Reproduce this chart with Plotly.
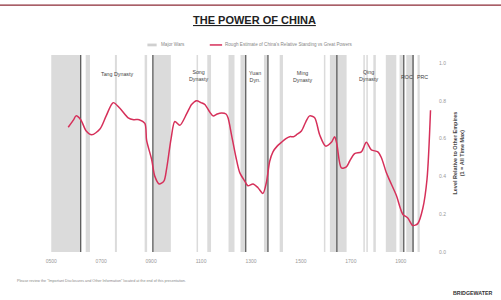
import plotly.graph_objects as go

# --- data ---
years = [568, 590, 599, 618, 640, 662, 695, 720, 748, 775, 808, 830, 852, 875, 882, 902, 915,
         932, 951, 962, 980, 995, 1015, 1042, 1062, 1082, 1100, 1115, 1135, 1148, 1165, 1182, 1200,
         1208, 1222, 1240, 1255, 1275, 1288, 1308, 1328, 1348, 1362, 1375, 1388, 1405, 1422, 1440,
         1455, 1470, 1482, 1502, 1520, 1535, 1555, 1575, 1599, 1622, 1635, 1644, 1662, 1682, 1695,
         1715, 1742, 1762, 1782, 1808, 1822, 1842, 1855, 1882, 1908, 1928, 1948, 1968, 1988, 2005, 2019]
power = [0.66, 0.70, 0.72, 0.70, 0.64, 0.62, 0.65, 0.72, 0.79, 0.76, 0.71, 0.70, 0.70, 0.68, 0.59,
         0.49, 0.40, 0.36, 0.375, 0.44, 0.60, 0.69, 0.67, 0.73, 0.78, 0.80, 0.79, 0.78, 0.74, 0.72,
         0.73, 0.735, 0.73, 0.71, 0.62, 0.50, 0.42, 0.375, 0.35, 0.36, 0.34, 0.31, 0.37, 0.48, 0.53,
         0.56, 0.58, 0.60, 0.61, 0.61, 0.62, 0.64, 0.69, 0.72, 0.71, 0.62, 0.56, 0.58, 0.61, 0.57,
         0.445, 0.45, 0.48, 0.52, 0.53, 0.58, 0.54, 0.53, 0.50, 0.42, 0.38, 0.30, 0.20, 0.18, 0.14,
         0.15, 0.23, 0.385, 0.75]

war_start = [500, 638, 755, 874, 907, 1082, 1125, 1210, 1258, 1352, 1415, 1592, 1616, 1750, 1762,
             1790, 1840, 1895, 1922, 1967]
war_end = [618, 655, 763, 884, 979, 1088, 1140, 1234, 1279, 1368, 1428, 1598, 1683, 1756, 1768,
           1800, 1882, 1912, 1953, 1976]

dynasty_breaks = [618, 907, 1279, 1368, 1644, 1912, 1949]
dynasty_names = ["Tang Dynasty", "Song<br>Dynasty", "Yuan<br>Dyn.", "Ming<br>Dynasty",
                 "Qing<br>Dynasty", "ROC", "PRC"]
dynasty_label_x = [765, 1088, 1316, 1505, 1770, 1925, 1985]
dynasty_label_y = [0.904, 0.897, 0.893, 0.89, 0.895, 0.886, 0.886]

x_tickvals = [500, 700, 900, 1100, 1300, 1500, 1700, 1900]
x_ticktext = ["0500", "0700", "0900", "1100", "1300", "1500", "1700", "1900"]
y_tickvals = [0.0, 0.2, 0.4, 0.6, 0.8, 1.0]

FONT = "Liberation Sans, Arial, sans-serif"
RED = "#d6305a"

fig = go.Figure()
fig.add_trace(go.Scatter(x=years, y=power, mode="lines",
                         line=dict(color=RED, width=1.5, shape="spline", smoothing=0.8),
                         showlegend=False, hoverinfo="skip"))

shapes = []
for s, e in zip(war_start, war_end):
    shapes.append(dict(type="rect", xref="x", yref="paper", x0=s, x1=e, y0=0, y1=1,
                       fillcolor="#dbdbdb", line=dict(width=0), layer="below"))
for b in dynasty_breaks:
    shapes.append(dict(type="line", xref="x", yref="paper", x0=b, x1=b, y0=0, y1=1,
                       line=dict(color="#505050", width=1.2), layer="below"))
# top border
shapes.append(dict(type="line", xref="paper", yref="paper", x0=-0.2, x1=1.3,
                   y0=1.253, y1=1.253, line=dict(color="#8b2a36", width=1.2)))
# legend swatches
shapes.append(dict(type="rect", xref="paper", yref="paper", x0=0.253, x1=0.277,
                   y0=1.044, y1=1.058, fillcolor="#d0d0d0", line=dict(width=0)))
shapes.append(dict(type="line", xref="paper", yref="paper", x0=0.415, x1=0.447,
                   y0=1.051, y1=1.051, line=dict(color=RED, width=1.5)))

annotations = []
for name, lx, ly in zip(dynasty_names, dynasty_label_x, dynasty_label_y):
    annotations.append(dict(x=lx, y=ly, xref="x", yref="paper", yanchor="middle", text=name,
                            showarrow=False, font=dict(size=5.3, color="#444", family=FONT),
                            align="center"))
annotations += [
    dict(x=0.53, y=1.178, xref="paper", yref="paper", yanchor="middle",
         text="<b><u>THE POWER OF CHINA</u></b>",
         showarrow=False, font=dict(size=11, color="#222", family=FONT)),
    dict(x=0.282, y=1.051, xref="paper", yref="paper", xanchor="left", yanchor="middle",
         text="Major Wars", showarrow=False, font=dict(size=4.6, color="#888", family=FONT)),
    dict(x=0.45, y=1.051, xref="paper", yref="paper", xanchor="left", yanchor="middle",
         text="Rough Estimate of China's Relative Standing vs Great Powers",
         showarrow=False, font=dict(size=4.6, color="#888", family=FONT)),
    dict(x=1.082, y=0.5, xref="paper", yref="paper", textangle=-90, yanchor="middle",
         text="<b>Level Relative to Other Empires<br>(1 = All Time Max)</b>",
         showarrow=False, font=dict(size=5.5, color="#444", family=FONT)),
    dict(x=-0.09, y=-0.147, xref="paper", yref="paper", xanchor="left", yanchor="middle",
         text="Please review the \"Important Disclosures and Other Information\" located at the end of this presentation.",
         showarrow=False, font=dict(size=3.7, color="#888", family=FONT)),
    dict(x=1.155, y=-0.208, xref="paper", yref="paper", xanchor="right", yanchor="middle",
         text="<b>BRIDGEWATER</b>",
         showarrow=False, font=dict(size=5.3, color="#333", family=FONT)),
]

fig.update_layout(
    width=501, height=300,
    margin=dict(l=50, r=66, t=55, b=48),
    paper_bgcolor="white", plot_bgcolor="white",
    shapes=shapes, annotations=annotations, showlegend=False,
    xaxis=dict(range=[495, 2037], tickvals=x_tickvals, ticktext=x_ticktext,
               showgrid=False, zeroline=False, showline=False, ticks="",
               ticklabelstandoff=5,
               tickfont=dict(size=5, color="#999", family=FONT)),
    yaxis=dict(range=[0, 1.042], side="right", tickvals=y_tickvals, tickformat=".1f",
               showgrid=False, zeroline=False, showline=False, ticks="",
               ticklabelstandoff=3,
               tickfont=dict(size=5, color="#999", family=FONT)),
)

fig.write_html("out.html")
